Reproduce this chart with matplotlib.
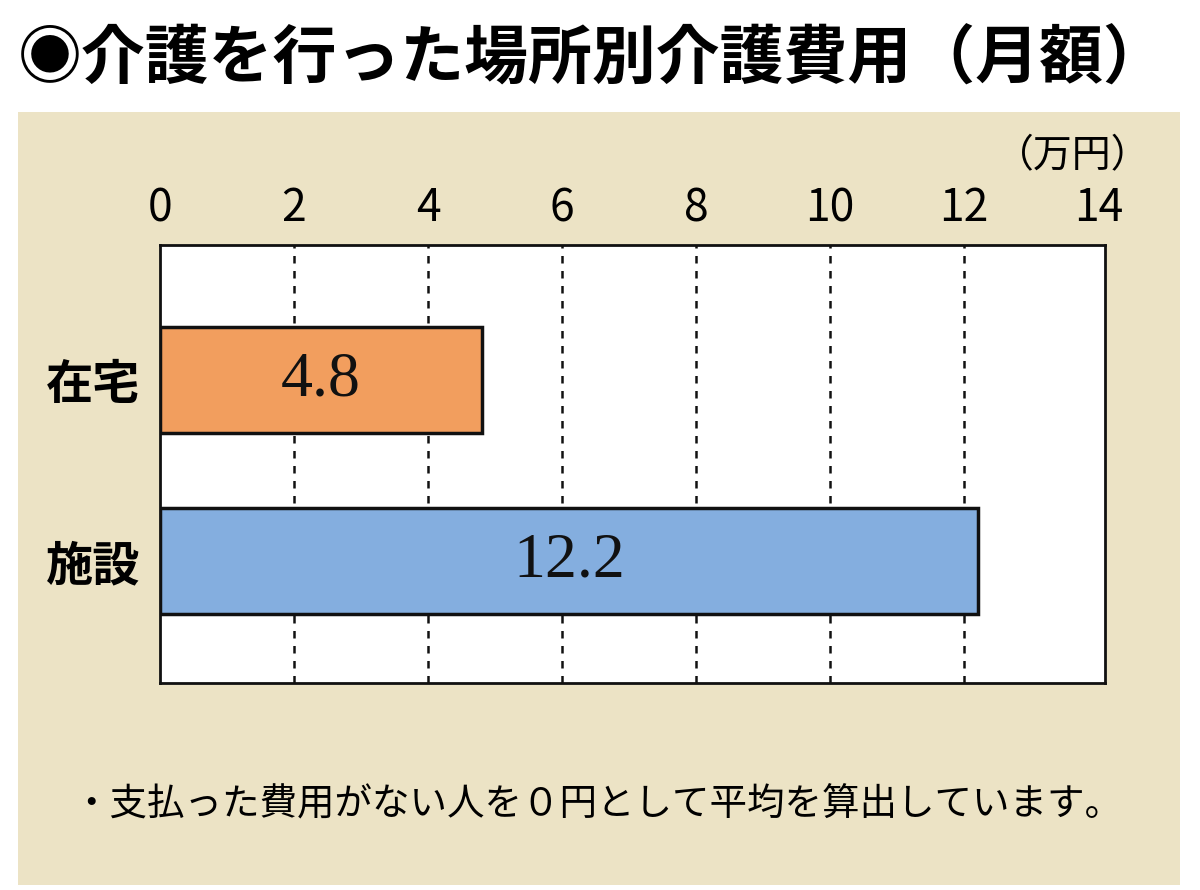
import matplotlib.pyplot as plt
from matplotlib.patches import Rectangle

plt.rcParams['font.family'] = ['Noto Sans CJK JP', 'DejaVu Sans']

categories = ['施設', '在宅']
values = [12.2, 4.8]
bar_colors = ['#84AEDF', '#F29E5E']
ticks = [0, 2, 4, 6, 8, 10, 12, 14]
grid_at = [2, 4, 6, 8, 10, 12]
title = '◉介護を行った場所別介護費用（月額）'
unit = '（万円）'
note = '・支払った費用がない人を０円として平均を算出しています。'

W, H = 1200, 890
fig = plt.figure(figsize=(12, 8.9), dpi=100)
fig.patch.set_facecolor('white')

# beige panel behind the chart
fig.patches.append(Rectangle((18 / W, 5 / H), 1162 / W, 773 / H,
                             transform=fig.transFigure, facecolor='#ECE3C5',
                             edgecolor='none', zorder=-5))

fig.text(18 / W, 1 - 60 / H, title, fontsize=46, fontweight='bold',
         va='center', ha='left')

ax = fig.add_axes([160 / W, 1 - 683 / H, 945 / W, 438 / H])
ax.set_zorder(2)
ax.set_facecolor('white')
ax.barh(range(len(categories)), values, height=0.585, color=bar_colors,
        edgecolor='#111111', linewidth=2.5, zorder=2)
for x in grid_at:
    ax.axvline(x, color='#111111', linestyle=(0, (3, 3)), linewidth=1.8, zorder=1)
for i, v in enumerate(values):
    ax.text(v / 2, i, f'{v}', ha='center', va='center', fontsize=46,
            family=['Liberation Serif'], color='#111111', zorder=3)

ax.set_xlim(0, 14.1)
ax.set_ylim(-0.674, 1.746)
ax.set_xticks(ticks)
ax.set_xticklabels([str(t) for t in ticks], fontsize=32)
ax.xaxis.tick_top()
ax.tick_params(axis='x', length=0, pad=10)
ax.set_yticks(range(len(categories)))
ax.set_yticklabels(categories, fontsize=34, fontweight='bold')
ax.tick_params(axis='y', length=0, pad=14)
for s in ax.spines.values():
    s.set_linewidth(2)
    s.set_color('#111111')

fig.text(1150 / W, 1 - 156 / H, unit, fontsize=28, ha='right', va='center')
fig.text(72 / W, 1 - 805 / H, note, fontsize=27, ha='left', va='center')

fig.savefig('out.png', dpi=100)
